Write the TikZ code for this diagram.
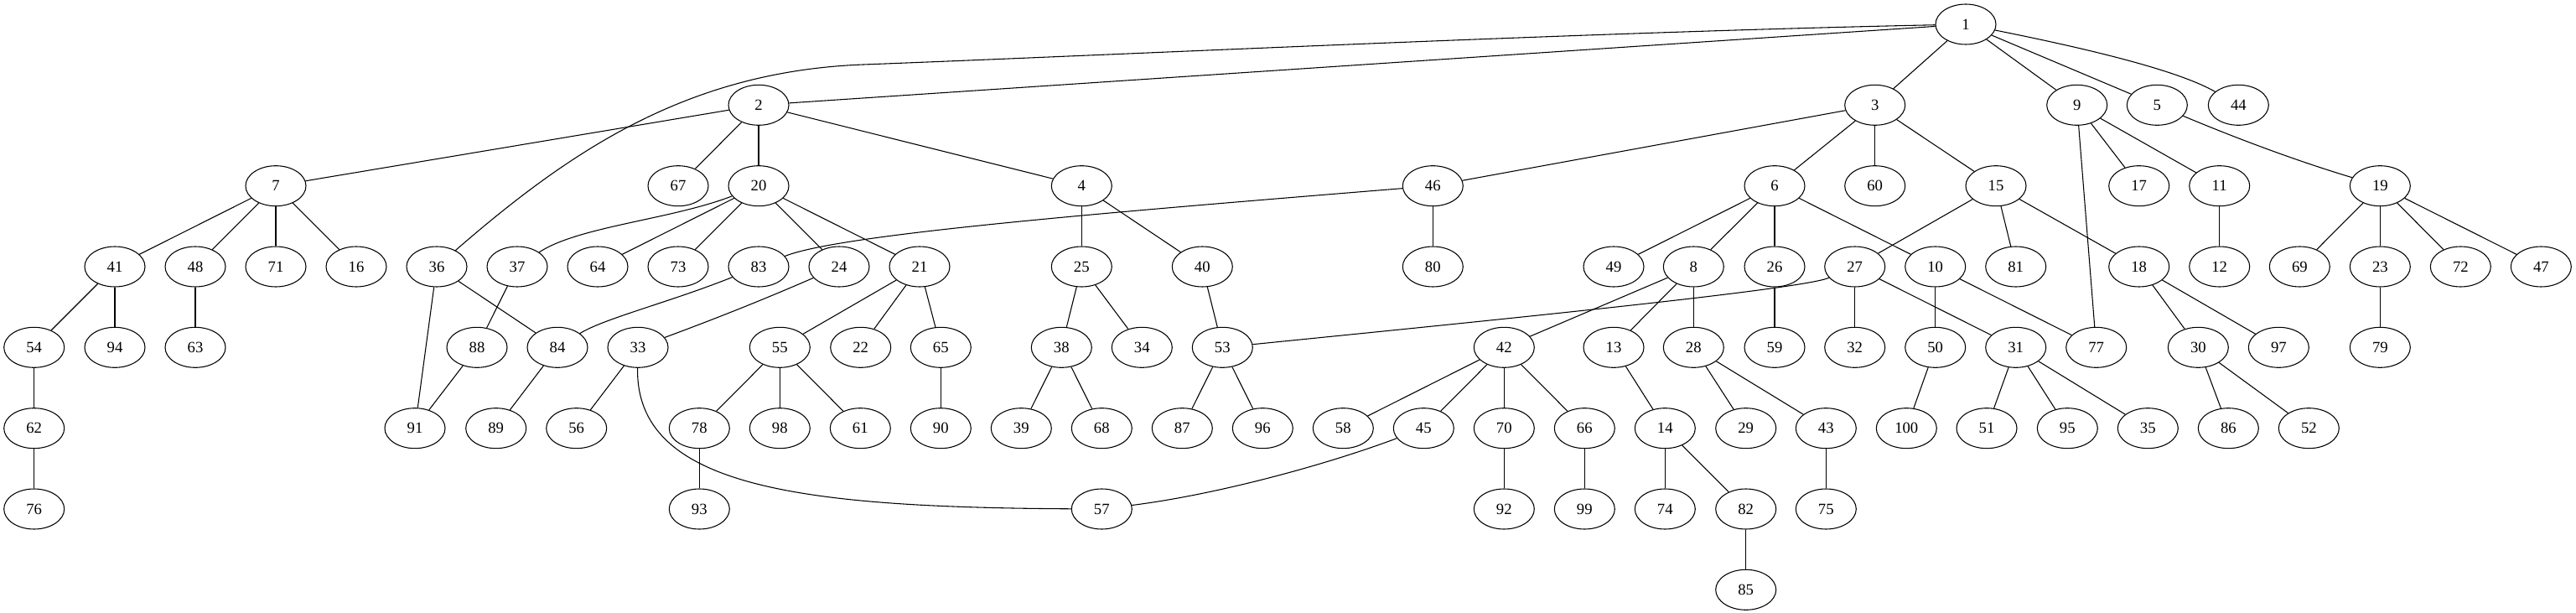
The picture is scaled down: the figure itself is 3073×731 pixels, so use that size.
\documentclass[tikz,border=0pt]{standalone}
\usepackage{fontspec}
\setmainfont{Liberation Serif}
\usetikzlibrary{shapes.geometric}
\tikzset{
  nd/.style={ellipse, draw, line width=0.8pt, minimum width=54pt, minimum height=36pt, inner sep=0pt, font=\fontsize{14}{16}\selectfont},
  ed/.style={line width=0.8pt}
}
\begin{document}
\begin{tikzpicture}[x=0.75pt,y=-0.75pt]
\useasboundingbox (0,0) rectangle (3073,731);
% row 0
\node[nd] (n1) at (2345,29) {1};
% row 1
\foreach \n/\x in {2/905,3/2236.7,9/2477.7,5/2573.3,44/2670.3}
  \node[nd] (n\n) at (\x,125.3) {\n};
% row 2
\foreach \n/\x in {7/329,67/809,20/905,4/1290.3,46/1709.3,6/2117,60/2236.7,15/2381,17/2551.7,11/2647.7,19/2839.3}
  \node[nd] (n\n) at (\x,221.7) {\n};
% row 3
\foreach \n/\x in {41/137,48/233,71/329,16/425,36/521,37/617,64/713,73/809,83/905,24/1001,21/1097,25/1290.3,40/1434.3,80/1709.3,49/1925,8/2020.3,26/2117,27/2212.7,10/2308.7,81/2404.7,18/2551.7,12/2647.7,69/2743.3,23/2839.3,72/2935.3,47/3031.3}
  \node[nd] (n\n) at (\x,318) {\n};
% row 4
\foreach \n/\x in {54/40.7,94/137,63/233,88/569,84/665,33/761,55/930.3,22/1026.7,65/1122.3,38/1266.3,34/1362.3,53/1458.3,42/1794.3,13/1925,28/2020.3,59/2117,32/2212.7,50/2308.7,31/2404.7,77/2500.7,30/2622.3,97/2718.3,79/2839.3}
  \node[nd] (n\n) at (\x,414.3) {\n};
% row 5
\foreach \n/\x in {62/40.7,91/495,89/591.7,56/687.7,78/834.3,98/930.3,61/1026.3,90/1122.3,39/1218.3,68/1314.3,87/1410.3,96/1506.3,58/1602.3,45/1698.3,70/1794.3,66/1890.3,14/1986.3,29/2082.7,43/2178.3,100/2274.3,51/2370,95/2466.3,35/2562.3,86/2658.3,52/2754.3}
  \node[nd] (n\n) at (\x,510.7) {\n};
% row 6
\foreach \n/\x in {76/40.7,93/834.3,57/1314.3,92/1794.3,99/1890.3,74/1986.3,82/2082.7,75/2178.3}
  \node[nd] (n\n) at (\x,607) {\n};
% row 7
\node[nd] (n85) at (2082.7,703.3) {85};
% straight edges
\foreach \a/\b in {1/2,1/3,1/9,1/5,2/7,2/67,2/20,2/4,3/46,3/6,3/60,3/15,9/17,9/11,9/77,
  7/41,7/48,7/71,7/16,20/64,20/73,20/24,20/21,4/25,4/40,46/80,6/49,6/8,6/26,6/10,
  15/27,15/81,15/18,11/12,19/69,19/23,19/72,19/47,41/54,41/94,48/63,36/91,36/84,37/88,
  21/55,21/22,21/65,25/38,25/34,40/53,8/42,8/13,8/28,26/59,27/32,27/31,10/50,10/77,
  18/30,18/97,23/79,54/62,88/91,84/89,33/56,55/78,55/98,55/61,65/90,38/39,38/68,
  53/87,53/96,42/58,42/45,42/70,42/66,13/14,28/29,28/43,50/100,31/51,31/95,31/35,
  30/86,30/52,62/76,78/93,70/92,66/99,14/74,14/82,43/75,82/85}
  \draw[ed] (n\a) -- (n\b);
% curved edges
\draw[ed] (n1) .. controls (1900,38) and (1345,65) .. (1030,77) .. controls (820,85) and (680,180) .. (n36);
\draw[ed] (n1) .. controls (2500,60) and (2600,85) .. (n44);
\draw[ed] (n5) .. controls (2680,170) and (2750,195) .. (n19);
\draw[ed] (n46) .. controls (1300,255) and (1000,280) .. (n83);
\draw[ed] (n20) .. controls (800,262) and (690,270) .. (n37);
\draw[ed] (n83) .. controls (800,360) and (720,380) .. (n84);
\draw[ed] (n24) .. controls (900,362) and (840,385) .. (n33);
\draw[ed] (n33) .. controls (758,580) and (950,605) .. (n57);
\draw[ed] (n45) .. controls (1580,555) and (1450,590) .. (n57);
\draw[ed] (n27) .. controls (2150,345) and (1800,380) .. (n53);
\end{tikzpicture}
\end{document}
